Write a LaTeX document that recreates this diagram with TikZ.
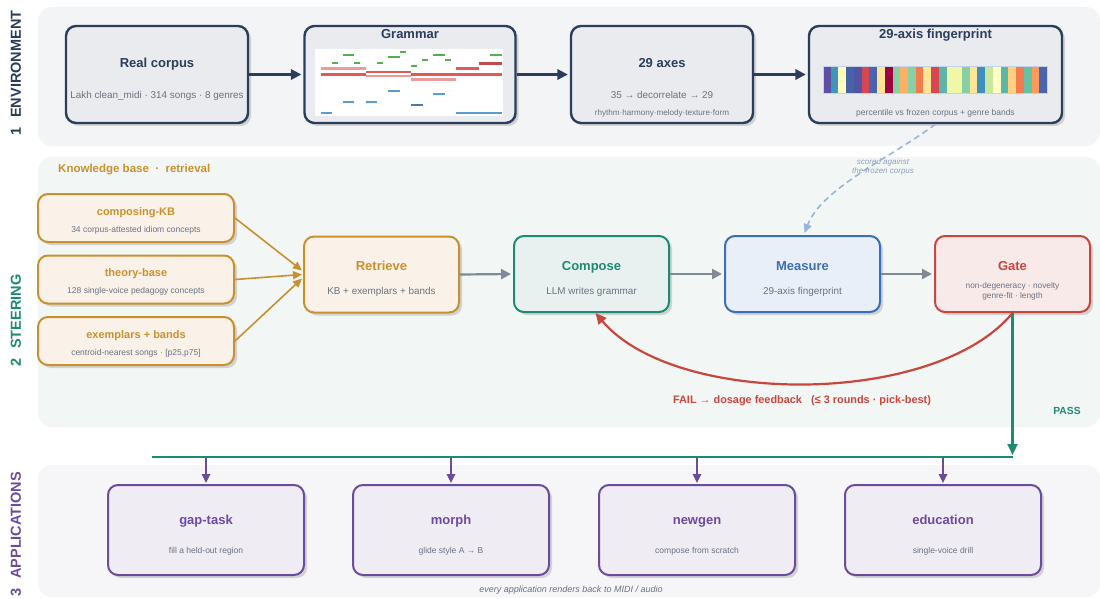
\documentclass[tikz,border=0pt]{standalone}
\usepackage{fontspec}
\setmainfont{Liberation Sans}
\usetikzlibrary{arrows.meta,shadows,calc}
\definecolor{navy}{HTML}{2B3D5B}
\definecolor{envfill}{HTML}{E9EBEF}
\definecolor{envpanel}{HTML}{F3F4F6}
\definecolor{steerpanel}{HTML}{F2F6F5}
\definecolor{apppanel}{HTML}{F6F6F9}
\definecolor{ochre}{HTML}{C8912F}
\definecolor{kbfill}{HTML}{FAF2E8}
\definecolor{tealc}{HTML}{1D8A72}
\definecolor{tealfill}{HTML}{E8F1EF}
\definecolor{bluec}{HTML}{3A6FB5}
\definecolor{bluefill}{HTML}{E9EFF8}
\definecolor{redc}{HTML}{C8463C}
\definecolor{redfill}{HTML}{F8EAE9}
\definecolor{purp}{HTML}{6A4C9C}
\definecolor{purpfill}{HTML}{EFECF4}
\definecolor{subgray}{HTML}{6B7280}
\definecolor{arrgray}{HTML}{7F8A99}
\definecolor{dashblue}{HTML}{9BB4D9}
\definecolor{notegreen}{HTML}{55B04F}
\definecolor{notered}{HTML}{E05A5A}
\definecolor{noteredl}{HTML}{EC9A9A}
\definecolor{noteblue}{HTML}{5A9BD0}
\begin{document}
\begin{tikzpicture}[x=1pt,y=-1pt,
  panel/.style={rounded corners=14pt},
  box/.style={rounded corners=10pt, line width=2pt, inner sep=0pt,
    drop shadow={shadow xshift=3pt,shadow yshift=-3pt,fill=black,opacity=0.14}},
  envbox/.style={box, line width=2.4pt, draw=navy, fill=envfill, minimum height=97pt},
  kbbox/.style={box, draw=ochre, fill=kbfill, minimum width=196pt, minimum height=48pt},
  stepbox/.style={box, minimum width=155pt, minimum height=76pt},
  appbox/.style={box, draw=purp, fill=purpfill, minimum width=196pt, minimum height=90pt},
  ttl/.style={inner sep=0pt, text height=9.3pt, text depth=0pt, font=\fontsize{13}{15}\selectfont\bfseries},
  kbttl/.style={inner sep=0pt, text height=7.9pt, text depth=0pt, font=\fontsize{11}{13}\selectfont\bfseries, text=ochre},
  subt/.style={inner sep=0pt, text height=7.1pt, text depth=0pt, font=\fontsize{9.9}{11}\selectfont, text=subgray},
  smallt/.style={inner sep=0pt, text height=6.1pt, text depth=0pt, font=\fontsize{8.5}{10}\selectfont, text=subgray},
  side/.style={inner sep=0pt, rotate=90, anchor=west, font=\fontsize{14.5}{16}\selectfont\bfseries},
  navyarrow/.style={draw=navy, line width=2.2pt, shorten >=2pt, -{Triangle[length=10.5pt,width=10.5pt]}},
  grayarrow/.style={draw=arrgray, line width=2.2pt, shorten >=2pt, -{Triangle[length=10pt,width=10pt]}},
  kbarrow/.style={draw=ochre, line width=1.6pt, -{Triangle[length=9pt,width=8pt]}},
  purparrow/.style={draw=purp, line width=1.7pt, shorten >=1pt, -{Triangle[length=9pt,width=8.5pt]}},
  gnote/.style={draw=notegreen, line width=2pt},
  rnote/.style={draw=notered, line width=2.5pt},
  rlnote/.style={draw=noteredl, line width=2.5pt},
  bnote/.style={draw=noteblue, line width=2pt}
]
\useasboundingbox (0,0) rectangle (1100,599);
\fill[white] (0,0) rectangle (1100,599);
% panels
\fill[panel, envpanel] (38,7) rectangle (1100,146);
\fill[panel, steerpanel] (38,157) rectangle (1100,427);
\fill[panel, apppanel] (38,465) rectangle (1100,597);
% side labels
\node[side, text=navy] (lab1) at (16,136) {1\hspace{10pt}ENVIRONMENT};
\node[side, text=tealc] (lab2) at (16,367) {2\hspace{10pt}STEERING};
\node[side, text=purp] (lab3) at (16,597) {3\hspace{10pt}APPLICATIONS};

% ENVIRONMENT row
\node[envbox, minimum width=182pt] (corpus) at (157,74.5) {};
\node[envbox, minimum width=211pt] (grammar) at (410,74.5) {};
\node[envbox, minimum width=182pt] (axes) at (662,74.5) {};
\node[envbox, minimum width=253pt] (fp) at (935.5,74.5) {};

\node[ttl, text=navy] (corpusT) at (157,63) {Real corpus};
\node[subt] (corpusS) at (157,95) {Lakh clean\_midi · 314 songs · 8 genres};
\node[ttl, text=navy] (grammarT) at (410,34) {Grammar};
\node[ttl, text=navy] (axesT) at (662,63) {29 axes};
\node[subt] (axesS) at (662,95) {35 → decorrelate → 29};
\node[smallt, font=\fontsize{8.1}{10}\selectfont] (axesS2) at (662,112) {rhythm·harmony·melody·texture·form};
\node[ttl, text=navy] (fpT) at (935.5,34) {29-axis fingerprint};
\node[smallt] (fpS) at (935.5,112) {percentile vs frozen corpus + genre bands};

\draw[navyarrow] (corpus.east) -- (grammar.west);
\draw[navyarrow] (grammar.east) -- (axes.west);
\draw[navyarrow] (axes.east) -- (fp.west);

% piano roll
\fill[white] (315,49) rectangle (503,116);
\draw[gnote] (342.8,54.9) -- (354.3,54.9);
\draw[gnote] (331.7,63.5) -- (338.0,63.5);
\draw[gnote] (354.3,63.5) -- (360.2,63.5);
\draw[gnote] (376.9,63.5) -- (382.9,63.5);
\draw[gnote] (388.1,56.6) -- (399.6,56.6);
\draw[gnote] (399.6,52.1) -- (405.5,52.1);
\draw[gnote] (411.0,66.3) -- (417.0,66.3);
\draw[gnote] (422.2,60.0) -- (428.1,60.0);
\draw[gnote] (433.3,54.9) -- (444.8,54.9);
\draw[gnote] (444.8,60.0) -- (450.7,60.0);
\draw[gnote] (490.0,54.9) -- (501.5,54.9);
\draw[rlnote] (320.6,68.3) -- (365.8,68.3);
\draw[rnote] (320.6,74.5) -- (365.8,74.5);
\draw[rnote] (365.8,71.8) -- (411.0,71.8);
\draw[rlnote] (365.8,75.9) -- (411.0,75.9);
\draw[rnote] (411.0,74.5) -- (501.5,74.5);
\draw[rlnote] (411.0,79.7) -- (456.3,79.7);
\draw[rnote] (456.3,68.3) -- (478.9,68.3);
\draw[rnote, draw=notered!85!black] (478.9,63.5) -- (501.5,63.5);
\draw[bnote] (388.1,91.1) -- (399.6,91.1);
\draw[bnote] (433.3,93.9) -- (444.8,93.9);
\draw[bnote] (342.8,102.1) -- (354.3,102.1);
\draw[bnote] (365.5,102.1) -- (377.0,102.1);
\draw[bnote, draw=noteblue!80!black] (411.0,105.2) -- (422.5,105.2);
\draw[bnote] (320.6,113.2) -- (332.1,113.2);
\draw[bnote] (456.3,113.2) -- (501.5,113.2);

% fingerprint bar
\foreach \c [count=\i from 0] in {5E4FA2,3F96B7,FFFFBF,4862AA,5056A2,D8474F,4A64AD,FEE593,9E0142,88CFA4,FDB063,88CFA4,F67B4A,FEE593,D8474F,5BB6A9,EEF8A6,EEF8A6,88CFA4,FEE593,3D8FC0,C7E79E,FFFFBF,5BB6A9,FDD17F,F67B4A,66C2A5,FD9B5A,4A64AD}{
  \definecolor{cellc}{HTML}{\c}
  \fill[cellc] ({823+\i*7.7241},66) rectangle ({823+(\i+1)*7.7241},93);
}
\draw[line width=0.8pt, draw=dashblue!60] (823,66) rectangle (1047,93);

% STEERING
\node[inner sep=0pt, anchor=west, font=\fontsize{11.5}{13}\selectfont\bfseries, text=ochre] (kbhead) at (58,170) {Knowledge base \ · \ retrieval};

\node[kbbox] (ckb) at (136,218) {};
\node[kbttl] (ckbT) at (136,212) {composing-KB};
\node[smallt] (ckbS) at (136,229) {34 corpus-attested idiom concepts};
\node[kbbox] (tb) at (136,279.5) {};
\node[kbttl] (tbT) at (136,273) {theory-base};
\node[smallt] (tbS) at (136,290) {128 single-voice pedagogy concepts};
\node[kbbox] (ex) at (136,341) {};
\node[kbttl] (exT) at (136,335) {exemplars + bands};
\node[smallt] (exS) at (136,352) {centroid-nearest songs · [p25,p75]};

\node[stepbox, draw=ochre, fill=kbfill] (retr) at (381.5,274.5) {};
\node[ttl, text=ochre] (retrT) at (381.5,266) {Retrieve};
\node[subt] (retrS) at (381.5,291) {KB + exemplars + bands};

\node[stepbox, draw=tealc, fill=tealfill] (comp) at (591.5,274) {};
\node[ttl, text=tealc] (compT) at (591.5,266) {Compose};
\node[subt] (compS) at (591.5,291) {LLM writes grammar};

\node[stepbox, draw=bluec, fill=bluefill] (meas) at (802.5,274) {};
\node[ttl, text=bluec] (measT) at (802.5,266) {Measure};
\node[subt] (measS) at (802.5,291) {29-axis fingerprint};

\node[stepbox, draw=redc, fill=redfill] (gate) at (1012.5,274) {};
\node[ttl, text=redc] (gateT) at (1012.5,266) {Gate};
\node[inner sep=0pt, text=subgray, align=center, font=\fontsize{8.3}{10}\selectfont] (gateS) at (1012.5,291) {non-degeneracy · novelty\\genre-fit · length};

\coordinate (rin1) at ($(retr.west)+(-1,-4)$);
\coordinate (rin2) at ($(retr.west)+(-1,0)$);
\coordinate (rin3) at ($(retr.west)+(-1,4)$);
\draw[kbarrow] (ckb.east) -- (rin1);
\draw[kbarrow] (tb.east) -- (rin2);
\draw[kbarrow] (ex.east) -- (rin3);

\draw[grayarrow] (retr.east) -- (comp.west);
\draw[grayarrow] (comp.east) -- (meas.west);
\draw[grayarrow] (meas.east) -- (gate.west);

% dashed scored-against arrow
\coordinate (mtop) at ($(meas.north)+(2,-2)$);
\draw[draw=dashblue, line width=1.6pt, dash pattern=on 6pt off 4pt, -{Triangle[length=9pt,width=8pt]}]
  (fp.south) .. controls (890,158) and (822,188) .. (mtop);
\node[inner sep=0pt, align=center, font=\fontsize{8}{9.5}\selectfont\itshape, text=dashblue!70!subgray] (scored) at (883,167) {scored against\\the frozen corpus};

% feedback
\coordinate (cbot) at ($(comp.south)+(4,0)$);
\draw[draw=redc, line width=2.2pt, -{Triangle[length=11pt,width=10pt]}]
  (gate.south) .. controls (935,407) and (675,407) .. (cbot);
\node[inner sep=0pt, font=\fontsize{10.9}{12}\selectfont\bfseries, text=redc] (fail) at (802,401) {FAIL → dosage feedback \ \ (≤ 3 rounds · pick-best)};
\node[inner sep=0pt, font=\fontsize{10.3}{12}\selectfont\bfseries, text=tealc] (pass) at (1067,411) {PASS};

% bus
\coordinate (busR) at (1012.5,457);
\coordinate (busL) at (152,457);
\draw[draw=tealc, line width=2.2pt, -{Triangle[length=11pt,width=10pt]}] (gate.south) -- ($(busR)+(0,-2)$);
\draw[draw=tealc, line width=2.2pt] (busL) -- (busR);

% APPLICATIONS
\node[appbox] (gap) at (206,530) {};
\node[ttl, text=purp] (gapT) at (206,520) {gap-task};
\node[smallt] (gapS) at (206,550) {fill a held-out region};
\node[appbox] (morph) at (451,530) {};
\node[ttl, text=purp] (morphT) at (451,520) {morph};
\node[smallt] (morphS) at (451,550) {glide style A → B};
\node[appbox] (newgen) at (697,530) {};
\node[ttl, text=purp] (newgenT) at (697,520) {newgen};
\node[smallt] (newgenS) at (697,550) {compose from scratch};
\node[appbox] (edu) at (943,530) {};
\node[ttl, text=purp] (eduT) at (943,520) {education};
\node[smallt] (eduS) at (943,550) {single-voice drill};

\foreach \n in {gap,morph,newgen,edu}{
  \draw[purparrow] ($(\n.north |- busL)+(0,1)$) -- (\n.north);
}
\node[inner sep=0pt, font=\fontsize{9}{10}\selectfont\itshape, text=subgray] (cap) at (571,590) {every application renders back to MIDI / audio};
\end{tikzpicture}
\end{document}
